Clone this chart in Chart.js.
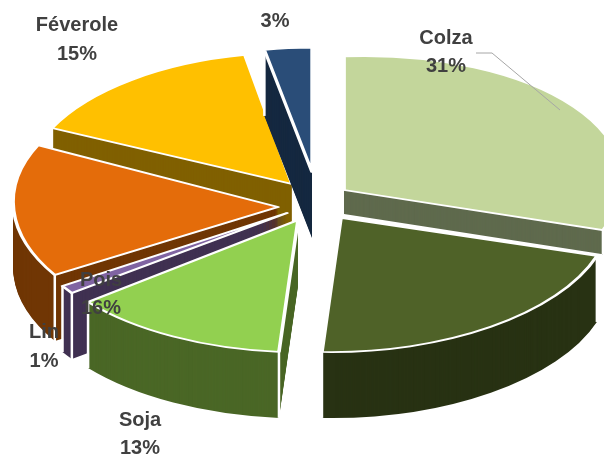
<!DOCTYPE html>
<html>
<head>
<meta charset="utf-8">
<script src="https://cdn.jsdelivr.net/npm/chart.js@4/dist/chart.umd.js"></script>
<style>
  html, body { margin: 0; background: #fff; }
  canvas { display: block; }
</style>
</head>
<body>
<canvas id="cultures" width="604" height="456"></canvas>
<script>
// clockwise from the top; the dark green slice has no readable label
const cultures = ["Colza", "", "Soja", "Lin", "Pois", "Féverole", ""];
const shares = [31, 21, 13, 1, 16, 15, 3];
const showShare = [true, false, true, true, true, true, true];

const topColors = ["#C3D69B", "#4F6228", "#92D050", "#8064A2", "#E46C0A", "#FFC000", "#2A4D78"];
const wallColors = ["#5F6A4D", "#283213", "#4A6726", "#403152", "#703604", "#806000", "#152840"];

// how far each slice is pulled away from the pie centre, on screen
const pullX = [32, 29, -14, -25, -34, -20, 0];
const pullY = [-15, 13, 15, 8, 2, -21, -33];
// small per-slice warp [a, b, c, d] standing in for the perspective of the original 3D pie
const warp = [
  [1.063, -0.037, 0, 1],
  [1.028, -0.046, 0.111, 0.999],
  [1.032, -0.02, 0.112, 0.99],
  [1.015, 0, 0, 1.02],
  [1.011, 0.019, 0.006, 1.009],
  [1.018, 0, -0.022, 0.983],
  [0.97, 0, 0, 0.93]
];
// back slices first, so the front ones cover their walls
const paintOrder = [5, 6, 0, 4, 3, 1, 2];
const tilt = 0.51;
// Colza's wall only shows as a short band in the original
const depths = [24, 66, 66, 66, 66, 66, 66];

// label anchors: [x, y of name, y of percent]
const labelPos = [[446, 38, 66], null, [140, 420, 448], [44, 332, 361], [101, 280, 308], [77, 25, 54], [275, null, 21]];

function paintArc(ctx, arc, i, drop, fill, border) {
  const opts = arc.options;
  arc.options = { ...opts, backgroundColor: fill, borderColor: "#fff", borderWidth: border, borderJoinStyle: "round" };
  ctx.save();
  ctx.translate(arc.x + pullX[i], arc.y + pullY[i] + drop);
  ctx.transform(...warp[i], 0, 0);
  ctx.scale(1, tilt);
  ctx.translate(-arc.x, -arc.y);
  arc.draw(ctx);
  ctx.restore();
  arc.options = opts;
}

// white edge running down the wall from a rim corner of the slice
function paintCorner(ctx, arc, i, angle) {
  const [a, b, c, d] = warp[i];
  const u = arc.outerRadius * Math.cos(angle);
  const v = arc.outerRadius * Math.sin(angle) * tilt;
  const x = arc.x + pullX[i] + a * u + c * v;
  const y = arc.y + pullY[i] + b * u + d * v;
  ctx.save();
  ctx.strokeStyle = "#fff";
  ctx.lineWidth = 2.5;
  ctx.beginPath();
  ctx.moveTo(x, y);
  ctx.lineTo(x, y + depths[i]);
  ctx.stroke();
  ctx.restore();
}

const pie3d = {
  id: "pie3d",
  beforeDatasetsDraw(chart) {
    const ctx = chart.ctx;
    const arcs = chart.getDatasetMeta(0).data;
    paintOrder.forEach(i => {
      for (let d = depths[i]; d >= 1; d--) paintArc(ctx, arcs[i], i, d, wallColors[i], 0);
      paintCorner(ctx, arcs[i], i, arcs[i].startAngle);
      paintCorner(ctx, arcs[i], i, arcs[i].endAngle);
      paintArc(ctx, arcs[i], i, 0, topColors[i], 3.5);
    });
    return false;
  },
  afterDraw(chart) {
    const ctx = chart.ctx;
    ctx.save();
    // leader line of the Colza label
    ctx.strokeStyle = "#A6A6A6";
    ctx.lineWidth = 1;
    ctx.beginPath();
    ctx.moveTo(476, 53);
    ctx.lineTo(492, 53);
    ctx.lineTo(560, 110);
    ctx.stroke();

    ctx.fillStyle = "#404040";
    ctx.font = "bold 20px 'Liberation Sans'";
    ctx.textAlign = "center";
    ctx.textBaseline = "middle";
    shares.forEach((v, i) => {
      if (!showShare[i]) return;
      const [x, y1, y2] = labelPos[i];
      if (cultures[i]) ctx.fillText(cultures[i], x, y1);
      ctx.fillText(v + "%", x, y2);
    });
    ctx.restore();
  }
};

new Chart(document.getElementById("cultures"), {
  type: "pie",
  data: {
    labels: cultures,
    datasets: [{ data: shares, backgroundColor: topColors, borderColor: "#fff" }]
  },
  options: {
    responsive: false,
    animation: false,
    radius: 262,
    layout: { padding: { left: 20, bottom: 46 } },
    plugins: { legend: { display: false }, tooltip: { enabled: false } }
  },
  plugins: [pie3d]
});
</script>
</body>
</html>
